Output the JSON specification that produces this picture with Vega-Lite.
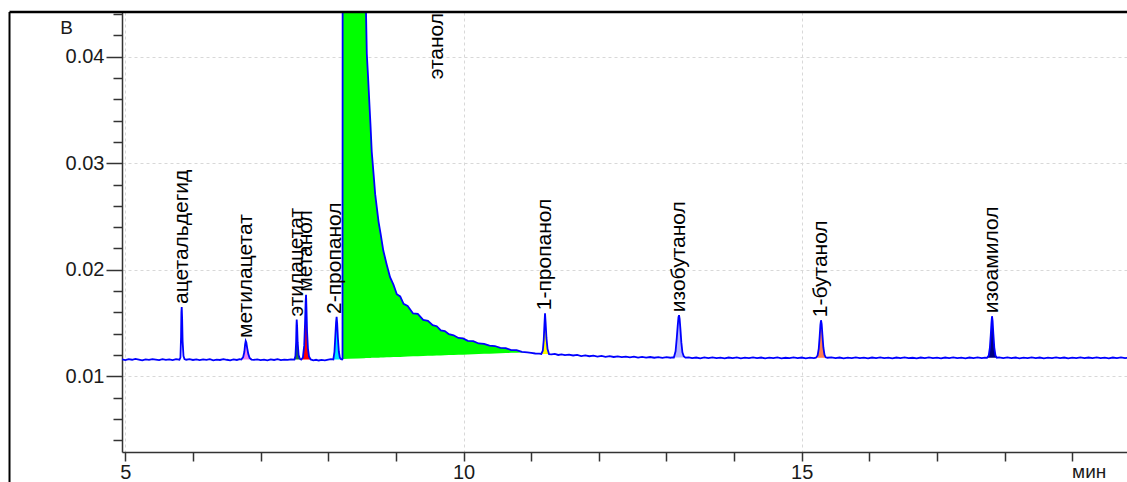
{
  "$schema": "https://vega.github.io/schema/vega-lite/v6.json",
  "width": 1005,
  "height": 440,
  "autosize": {"type": "none"},
  "padding": {"left": 122, "top": 12, "right": 0, "bottom": 30},
  "background": "white",
  "config": {"view": {"stroke": null}, "axis": {"labelOverlap": false}},
  "datasets": {
    "trace": [
      {"t":4.95,"v":0.01158},{"t":5.00,"v":0.01152},{"t":5.05,"v":0.01160},{"t":5.10,"v":0.01155},{"t":5.15,"v":0.01163},{"t":5.20,"v":0.01157},{"t":5.25,"v":0.01150},{"t":5.30,"v":0.01159},{"t":5.35,"v":0.01154},{"t":5.40,"v":0.01161},{"t":5.45,"v":0.01156},{"t":5.50,"v":0.01151},{"t":5.55,"v":0.01160},{"t":5.60,"v":0.01154},{"t":5.65,"v":0.01158},{"t":5.70,"v":0.01152},{"t":5.75,"v":0.01160},{"t":5.80,"v":0.01156},
      {"t":5.815,"v":0.01175},{"t":5.824,"v":0.01370},{"t":5.829,"v":0.01600},{"t":5.834,"v":0.01651},{"t":5.840,"v":0.01540},{"t":5.847,"v":0.01330},{"t":5.86,"v":0.01190},{"t":5.875,"v":0.01162},
      {"t":5.90,"v":0.01155},{"t":5.95,"v":0.01160},{"t":6.00,"v":0.01153},{"t":6.05,"v":0.01158},{"t":6.10,"v":0.01151},{"t":6.15,"v":0.01159},{"t":6.20,"v":0.01154},{"t":6.25,"v":0.01160},{"t":6.30,"v":0.01150},{"t":6.35,"v":0.01157},{"t":6.40,"v":0.01153},{"t":6.45,"v":0.01161},{"t":6.50,"v":0.01155},{"t":6.55,"v":0.01150},{"t":6.60,"v":0.01158},{"t":6.65,"v":0.01153},{"t":6.69,"v":0.01160},
      {"t":6.715,"v":0.01157,"p":"метилацетат","b":0.01157},{"t":6.742,"v":0.01180,"p":"метилацетат","b":0.01157},{"t":6.760,"v":0.01230,"p":"метилацетат","b":0.01157},{"t":6.771,"v":0.01300,"p":"метилацетат","b":0.01157},{"t":6.780,"v":0.01332,"p":"метилацетат","b":0.01157},{"t":6.789,"v":0.01318,"p":"метилацетат","b":0.01157},{"t":6.802,"v":0.01265,"p":"метилацетат","b":0.01157},{"t":6.818,"v":0.01210,"p":"метилацетат","b":0.01157},{"t":6.838,"v":0.01172,"p":"метилацетат","b":0.01157},{"t":6.865,"v":0.01157,"p":"метилацетат","b":0.01157},
      {"t":6.90,"v":0.01154},{"t":6.95,"v":0.01159},{"t":7.00,"v":0.01152},{"t":7.05,"v":0.01157},{"t":7.10,"v":0.01150},{"t":7.15,"v":0.01158},{"t":7.20,"v":0.01153},{"t":7.25,"v":0.01160},{"t":7.30,"v":0.01151},{"t":7.35,"v":0.01157},{"t":7.40,"v":0.01154},{"t":7.45,"v":0.01159},
      {"t":7.50,"v":0.01157,"p":"этилацетат","b":0.01157},{"t":7.515,"v":0.01190,"p":"этилацетат","b":0.01157},{"t":7.525,"v":0.01320,"p":"этилацетат","b":0.01157},{"t":7.530,"v":0.01470,"p":"этилацетат","b":0.01157},{"t":7.534,"v":0.01533,"p":"этилацетат","b":0.01157},{"t":7.540,"v":0.01470,"p":"этилацетат","b":0.01157},{"t":7.548,"v":0.01320,"p":"этилацетат","b":0.01157},{"t":7.562,"v":0.01200,"p":"этилацетат","b":0.01157},{"t":7.58,"v":0.01165,"p":"этилацетат","b":0.01157},
      {"t":7.60,"v":0.01157,"p":"метанол","b":0.01157},{"t":7.625,"v":0.01175,"p":"метанол","b":0.01157},{"t":7.645,"v":0.01290,"p":"метанол","b":0.01157},{"t":7.657,"v":0.01500,"p":"метанол","b":0.01157},{"t":7.666,"v":0.01700,"p":"метанол","b":0.01157},{"t":7.672,"v":0.01765,"p":"метанол","b":0.01157},{"t":7.678,"v":0.01640,"p":"метанол","b":0.01157},{"t":7.687,"v":0.01420,"p":"метанол","b":0.01157},{"t":7.70,"v":0.01260,"p":"метанол","b":0.01157},{"t":7.716,"v":0.01185,"p":"метанол","b":0.01157},{"t":7.74,"v":0.01158,"p":"метанол","b":0.01157},
      {"t":7.78,"v":0.01150},{"t":7.82,"v":0.01155},{"t":7.86,"v":0.01148},{"t":7.90,"v":0.01153},{"t":7.95,"v":0.01150},{"t":8.00,"v":0.01156},{"t":8.04,"v":0.01160},
      {"t":8.075,"v":0.01158,"p":"2-пропанол","b":0.01158},{"t":8.092,"v":0.01230,"p":"2-пропанол","b":0.01158},{"t":8.105,"v":0.01380,"p":"2-пропанол","b":0.01158},{"t":8.116,"v":0.01510,"p":"2-пропанол","b":0.01158},{"t":8.124,"v":0.01557,"p":"2-пропанол","b":0.01158},{"t":8.132,"v":0.01500,"p":"2-пропанол","b":0.01158},{"t":8.143,"v":0.01360,"p":"2-пропанол","b":0.01158},{"t":8.157,"v":0.01230,"p":"2-пропанол","b":0.01158},{"t":8.172,"v":0.01175,"p":"2-пропанол","b":0.01158},{"t":8.19,"v":0.01160,"p":"2-пропанол","b":0.01158},
      {"t":8.205,"v":0.01158},
      {"t":8.211,"v":0.01163,"p":"этанол","b":0.01163},{"t":8.215,"v":0.0800,"p":"этанол","b":0.01163},{"t":8.30,"v":0.0950,"p":"этанол","b":0.01165},{"t":8.45,"v":0.0900,"p":"этанол","b":0.01168},{"t":8.535,"v":0.0600,"p":"этанол","b":0.01170},{"t":8.556,"v":0.0450,"p":"этанол","b":0.01171},{"t":8.570,"v":0.0403,"p":"этанол","b":0.01171},{"t":8.589,"v":0.0381,"p":"этанол","b":0.01172},{"t":8.607,"v":0.0358,"p":"этанол","b":0.01172},{"t":8.624,"v":0.0337,"p":"этанол","b":0.01172},{"t":8.643,"v":0.0311,"p":"этанол","b":0.01173},{"t":8.674,"v":0.0287,"p":"этанол","b":0.01174},{"t":8.694,"v":0.0271,"p":"этанол","b":0.01174},{"t":8.717,"v":0.0259,"p":"этанол","b":0.01174},{"t":8.744,"v":0.0245,"p":"этанол","b":0.01175},{"t":8.774,"v":0.0234,"p":"этанол","b":0.01176},{"t":8.814,"v":0.0218,"p":"этанол","b":0.01177},{"t":8.864,"v":0.0205,"p":"этанол","b":0.01178},{"t":8.914,"v":0.0193,"p":"этанол","b":0.01179},{"t":8.964,"v":0.0186,"p":"этанол","b":0.01180},{"t":9.014,"v":0.0177,"p":"этанол","b":0.01181},{"t":9.064,"v":0.0175,"p":"этанол","b":0.01182},{"t":9.114,"v":0.0168,"p":"этанол","b":0.01183},{"t":9.174,"v":0.0166,"p":"этанол","b":0.01185},{"t":9.254,"v":0.0159,"p":"этанол","b":0.01187},{"t":9.324,"v":0.01585,"p":"этанол","b":0.01188},{"t":9.404,"v":0.01530,"p":"этанол","b":0.01190},{"t":9.474,"v":0.01520,"p":"этанол","b":0.01192},{"t":9.544,"v":0.01480,"p":"этанол","b":0.01193},{"t":9.604,"v":0.01470,"p":"этанол","b":0.01195},{"t":9.664,"v":0.01430,"p":"этанол","b":0.01196},{"t":9.724,"v":0.01425,"p":"этанол","b":0.01197},{"t":9.784,"v":0.01395,"p":"этанол","b":0.01199},{"t":9.854,"v":0.01385,"p":"этанол","b":0.01200},{"t":9.924,"v":0.01360,"p":"этанол","b":0.01202},{"t":9.994,"v":0.01355,"p":"этанол","b":0.01203},{"t":10.064,"v":0.01333,"p":"этанол","b":0.01205},{"t":10.144,"v":0.01330,"p":"этанол","b":0.01207},{"t":10.224,"v":0.01308,"p":"этанол","b":0.01209},{"t":10.304,"v":0.01304,"p":"этанол","b":0.01211},{"t":10.384,"v":0.01287,"p":"этанол","b":0.01212},{"t":10.464,"v":0.01284,"p":"этанол","b":0.01214},{"t":10.544,"v":0.01267,"p":"этанол","b":0.01216},{"t":10.624,"v":0.01265,"p":"этанол","b":0.01218},{"t":10.704,"v":0.01246,"p":"этанол","b":0.01220},{"t":10.784,"v":0.01245,"p":"этанол","b":0.01221},{"t":10.864,"v":0.01229,"p":"этанол","b":0.01223},{"t":10.944,"v":0.01225,"p":"этанол","b":0.01225},
      {"t":11.00,"v":0.01220},{"t":11.06,"v":0.01214},{"t":11.12,"v":0.01213},
      {"t":11.15,"v":0.01210,"p":"1-пропанол","b":0.01210},{"t":11.172,"v":0.01240,"p":"1-пропанол","b":0.01210},{"t":11.186,"v":0.01340,"p":"1-пропанол","b":0.01210},{"t":11.196,"v":0.01480,"p":"1-пропанол","b":0.01210},{"t":11.205,"v":0.01592,"p":"1-пропанол","b":0.01209},{"t":11.214,"v":0.01500,"p":"1-пропанол","b":0.01209},{"t":11.226,"v":0.01360,"p":"1-пропанол","b":0.01208},{"t":11.242,"v":0.01255,"p":"1-пропанол","b":0.01208},{"t":11.265,"v":0.01207,"p":"1-пропанол","b":0.01207},
      {"t":11.30,"v":0.01205},{"t":11.35,"v":0.01210},{"t":11.40,"v":0.01200},{"t":11.45,"v":0.01206},{"t":11.50,"v":0.01198},{"t":11.56,"v":0.01203},{"t":11.62,"v":0.01195},{"t":11.68,"v":0.01200},{"t":11.74,"v":0.01190},{"t":11.80,"v":0.01196},{"t":11.86,"v":0.01188},{"t":11.92,"v":0.01193},{"t":11.98,"v":0.01185},{"t":12.04,"v":0.01191},{"t":12.10,"v":0.01183},{"t":12.16,"v":0.01189},{"t":12.22,"v":0.01181},{"t":12.28,"v":0.01187},{"t":12.34,"v":0.01179},{"t":12.40,"v":0.01185},{"t":12.46,"v":0.01178},{"t":12.52,"v":0.01184},{"t":12.58,"v":0.01176},{"t":12.64,"v":0.01182},{"t":12.70,"v":0.01175},{"t":12.76,"v":0.01181},{"t":12.82,"v":0.01174},{"t":12.88,"v":0.01180},{"t":12.94,"v":0.01173},{"t":13.00,"v":0.01179},{"t":13.06,"v":0.01174},{"t":13.09,"v":0.01178},
      {"t":13.11,"v":0.01176,"p":"изобутанол","b":0.01176},{"t":13.135,"v":0.01235,"p":"изобутанол","b":0.01176},{"t":13.153,"v":0.01360,"p":"изобутанол","b":0.01176},{"t":13.166,"v":0.01470,"p":"изобутанол","b":0.01176},{"t":13.178,"v":0.01555,"p":"изобутанол","b":0.01176},{"t":13.186,"v":0.01573,"p":"изобутанол","b":0.01176},{"t":13.195,"v":0.01540,"p":"изобутанол","b":0.01176},{"t":13.207,"v":0.01440,"p":"изобутанол","b":0.01176},{"t":13.22,"v":0.01320,"p":"изобутанол","b":0.01176},{"t":13.236,"v":0.01225,"p":"изобутанол","b":0.01176},{"t":13.256,"v":0.01188,"p":"изобутанол","b":0.01176},{"t":13.28,"v":0.01175,"p":"изобутанол","b":0.01175},
      {"t":13.33,"v":0.01178},{"t":13.38,"v":0.01170},{"t":13.44,"v":0.01176},{"t":13.50,"v":0.01169},{"t":13.56,"v":0.01177},{"t":13.62,"v":0.01171},{"t":13.68,"v":0.01178},{"t":13.74,"v":0.01170},{"t":13.80,"v":0.01175},{"t":13.86,"v":0.01168},{"t":13.92,"v":0.01176},{"t":13.98,"v":0.01171},{"t":14.04,"v":0.01177},{"t":14.10,"v":0.01169},{"t":14.16,"v":0.01175},{"t":14.22,"v":0.01170},{"t":14.28,"v":0.01178},{"t":14.34,"v":0.01171},{"t":14.40,"v":0.01176},{"t":14.46,"v":0.01168},{"t":14.52,"v":0.01175},{"t":14.58,"v":0.01170},{"t":14.64,"v":0.01177},{"t":14.70,"v":0.01169},{"t":14.76,"v":0.01174},{"t":14.82,"v":0.01170},{"t":14.88,"v":0.01177},{"t":14.94,"v":0.01171},{"t":15.00,"v":0.01176},{"t":15.06,"v":0.01169},{"t":15.12,"v":0.01175},{"t":15.18,"v":0.01171},
      {"t":15.21,"v":0.01174,"p":"1-бутанол","b":0.01174},{"t":15.235,"v":0.01195,"p":"1-бутанол","b":0.01174},{"t":15.252,"v":0.01260,"p":"1-бутанол","b":0.01174},{"t":15.265,"v":0.01370,"p":"1-бутанол","b":0.01174},{"t":15.276,"v":0.01480,"p":"1-бутанол","b":0.01174},{"t":15.285,"v":0.01526,"p":"1-бутанол","b":0.01174},{"t":15.295,"v":0.01490,"p":"1-бутанол","b":0.01174},{"t":15.306,"v":0.01390,"p":"1-бутанол","b":0.01174},{"t":15.32,"v":0.01270,"p":"1-бутанол","b":0.01174},{"t":15.337,"v":0.01200,"p":"1-бутанол","b":0.01174},{"t":15.355,"v":0.01178,"p":"1-бутанол","b":0.01174},{"t":15.38,"v":0.01174,"p":"1-бутанол","b":0.01174},
      {"t":15.44,"v":0.01177},{"t":15.50,"v":0.01170},{"t":15.56,"v":0.01176},{"t":15.62,"v":0.01169},{"t":15.68,"v":0.01175},{"t":15.74,"v":0.01171},{"t":15.80,"v":0.01178},{"t":15.86,"v":0.01170},{"t":15.92,"v":0.01175},{"t":15.98,"v":0.01169},{"t":16.04,"v":0.01176},{"t":16.10,"v":0.01171},{"t":16.16,"v":0.01177},{"t":16.22,"v":0.01170},{"t":16.28,"v":0.01175},{"t":16.34,"v":0.01168},{"t":16.40,"v":0.01176},{"t":16.46,"v":0.01171},{"t":16.52,"v":0.01177},{"t":16.58,"v":0.01170},{"t":16.64,"v":0.01174},{"t":16.70,"v":0.01169},{"t":16.76,"v":0.01176},{"t":16.82,"v":0.01171},{"t":16.88,"v":0.01177},{"t":16.94,"v":0.01170},{"t":17.00,"v":0.01175},{"t":17.06,"v":0.01169},{"t":17.12,"v":0.01176},{"t":17.18,"v":0.01171},{"t":17.24,"v":0.01178},{"t":17.30,"v":0.01170},{"t":17.36,"v":0.01175},{"t":17.42,"v":0.01168},{"t":17.48,"v":0.01176},{"t":17.54,"v":0.01171},{"t":17.60,"v":0.01177},{"t":17.66,"v":0.01170},{"t":17.71,"v":0.01175},
      {"t":17.74,"v":0.01173,"p":"изоамилол","b":0.01173},{"t":17.765,"v":0.01195,"p":"изоамилол","b":0.01173},{"t":17.782,"v":0.01270,"p":"изоамилол","b":0.01173},{"t":17.795,"v":0.01390,"p":"изоамилол","b":0.01173},{"t":17.805,"v":0.01500,"p":"изоамилол","b":0.01173},{"t":17.813,"v":0.01564,"p":"изоамилол","b":0.01173},{"t":17.822,"v":0.01520,"p":"изоамилол","b":0.01173},{"t":17.833,"v":0.01400,"p":"изоамилол","b":0.01173},{"t":17.847,"v":0.01270,"p":"изоамилол","b":0.01173},{"t":17.864,"v":0.01195,"p":"изоамилол","b":0.01173},{"t":17.885,"v":0.01174,"p":"изоамилол","b":0.01173},
      {"t":17.92,"v":0.01178},{"t":17.98,"v":0.01171},{"t":18.04,"v":0.01177},{"t":18.10,"v":0.01170},{"t":18.16,"v":0.01176},{"t":18.22,"v":0.01169},{"t":18.28,"v":0.01175},{"t":18.34,"v":0.01171},{"t":18.40,"v":0.01178},{"t":18.46,"v":0.01170},{"t":18.52,"v":0.01176},{"t":18.58,"v":0.01169},{"t":18.64,"v":0.01175},{"t":18.70,"v":0.01171},{"t":18.76,"v":0.01177},{"t":18.82,"v":0.01170},{"t":18.88,"v":0.01176},{"t":18.94,"v":0.01169},{"t":19.00,"v":0.01175},{"t":19.06,"v":0.01171},{"t":19.12,"v":0.01178},{"t":19.18,"v":0.01170},{"t":19.24,"v":0.01176},{"t":19.30,"v":0.01171},{"t":19.36,"v":0.01177},{"t":19.42,"v":0.01170},{"t":19.48,"v":0.01175},{"t":19.54,"v":0.01169},{"t":19.60,"v":0.01176},{"t":19.66,"v":0.01171},{"t":19.72,"v":0.01177},{"t":19.78,"v":0.01170},{"t":19.84,"v":0.01175}
    ],
    "labels": [
      {"name":"ацетальдегид","t":5.834,"v":0.01651},
      {"name":"метилацетат","t":6.780,"v":0.01332},
      {"name":"этилацетат","t":7.532,"v":0.01533},
      {"name":"метанол","t":7.670,"v":0.01765},
      {"name":"2-пропанол","t":8.095,"v":0.01557},
      {"name":"этанол","t":9.608,"v":0.0376},
      {"name":"1-пропанол","t":11.205,"v":0.01592},
      {"name":"изобутанол","t":13.186,"v":0.01573},
      {"name":"1-бутанол","t":15.285,"v":0.01526},
      {"name":"изоамилол","t":17.813,"v":0.01564}
    ]
  },
  "layer": [
    {
      "data": {"name": "trace"},
      "transform": [{"filter": "isValid(datum.p)"}],
      "mark": {"type": "area", "clip": true, "interpolate": "linear"},
      "encoding": {
        "x": {
          "field": "t", "type": "quantitative",
          "scale": {"domain": [4.951, 19.809], "nice": false, "zero": false},
          "axis": {
            "values": [5,6,7,8,9,10,11,12,13,14,15,16,17,18,19],
            "tickCount": 60,
            "labelExpr": "round(datum.value) % 5 === 0 ? format(datum.value, 'd') : ''",
            "title": "мин",
            "titleX": 966.7, "titleY": 19,
            "titleAlign": "center", "titleBaseline": "middle",
            "titleFont": "Liberation Sans", "titleFontSize": 19, "titleFontWeight": "normal", "titleColor": "#1a1a1a",
            "labelFont": "Liberation Sans", "labelFontSize": 20, "labelColor": "#1a1a1a",
            "labelPadding": 1, "labelFlush": false, "labelOverlap": false,
            "tickSize": 9, "tickColor": "#333333", "tickWidth": 1.5,
            "domainColor": "#333333", "domainWidth": 1.5,
            "grid": true, "gridDash": [3, 3], "gridColor": "#d8d8d8",
            "gridOpacity": {"condition": {"test": "round(datum.value) % 5 === 0", "value": 1}, "value": 0}
          }
        },
        "y": {
          "field": "v", "type": "quantitative", "stack": null,
          "scale": {"domain": [0.00289, 0.0442], "nice": false, "zero": false},
          "axis": {
            "values": [0.004,0.006,0.008,0.01,0.012,0.014,0.016,0.018,0.02,0.022,0.024,0.026,0.028,0.03,0.032,0.034,0.036,0.038,0.04,0.042,0.044],
            "tickCount": 60,
            "labelExpr": "round(datum.value*1000) % 10 === 0 ? format(datum.value, '.2f') : ''",
            "title": "В", "titleAngle": 0, "titleX": -56, "titleY": 15,
            "titleAlign": "center", "titleBaseline": "middle",
            "titleFont": "Liberation Sans", "titleFontSize": 19, "titleFontWeight": "normal", "titleColor": "#1a1a1a",
            "labelFont": "Liberation Sans", "labelFontSize": 20, "labelColor": "#1a1a1a",
            "labelPadding": 2, "labelOverlap": false,
            "tickSize": {"condition": {"test": "round(datum.value*1000) % 10 === 0", "value": 16}, "value": 9},
            "tickColor": "#333333", "tickWidth": 1.5,
            "domainColor": "#333333", "domainWidth": 1.5,
            "grid": true, "gridDash": [3, 3], "gridColor": "#d8d8d8",
            "gridOpacity": {"condition": {"test": "round(datum.value*1000) % 10 === 0", "value": 1}, "value": 0}
          }
        },
        "y2": {"field": "b"},
        "color": {
          "field": "p", "type": "nominal", "legend": null,
          "scale": {
            "domain": ["метилацетат","этилацетат","метанол","2-пропанол","этанол","1-пропанол","изобутанол","1-бутанол","изоамилол"],
            "range": ["#ee82ee","#1b7a3e","#ff0000","#00e8ff","#00ff00","#ffff00","#b4b4ff","#ff7f50","#000080"]
          }
        },
        "detail": {"field": "p"}
      }
    },
    {
      "data": {"name": "trace"},
      "mark": {"type": "line", "color": "#0000ff", "strokeWidth": 1.8, "clip": true, "interpolate": "linear"},
      "encoding": {
        "x": {"field": "t", "type": "quantitative", "scale": {"domain": [4.951, 19.809], "nice": false, "zero": false}},
        "y": {"field": "v", "type": "quantitative", "scale": {"domain": [0.00289, 0.0442], "nice": false, "zero": false}},
        "order": {"field": "t"}
      }
    },
    {
      "data": {"name": "labels"},
      "mark": {"type": "text", "angle": 270, "align": "left", "baseline": "middle", "dx": 3, "font": "Liberation Sans", "fontSize": 21, "color": "#000000"},
      "encoding": {
        "x": {"field": "t", "type": "quantitative", "scale": {"domain": [4.951, 19.809], "nice": false, "zero": false}},
        "y": {"field": "v", "type": "quantitative", "scale": {"domain": [0.00289, 0.0442], "nice": false, "zero": false}},
        "text": {"field": "name"}
      }
    },
    {
      "data": {"values": [{}]},
      "mark": {"type": "rule", "color": "#000000", "strokeWidth": 2.5},
      "encoding": {
        "x": {"datum": 3.288, "type": "quantitative", "scale": {"domain": [4.951, 19.809], "nice": false, "zero": false}},
        "x2": {"datum": 19.9},
        "y": {"datum": 0.0442, "type": "quantitative", "scale": {"domain": [0.00289, 0.0442], "nice": false, "zero": false}}
      }
    },
    {
      "data": {"values": [{}]},
      "mark": {"type": "rule", "color": "#000000", "strokeWidth": 2},
      "encoding": {
        "x": {"datum": 3.288, "type": "quantitative", "scale": {"domain": [4.951, 19.809], "nice": false, "zero": false}},
        "y": {"datum": 0.0442, "type": "quantitative", "scale": {"domain": [0.00289, 0.0442], "nice": false, "zero": false}},
        "y2": {"datum": 0.0}
      }
    }
  ]
}
